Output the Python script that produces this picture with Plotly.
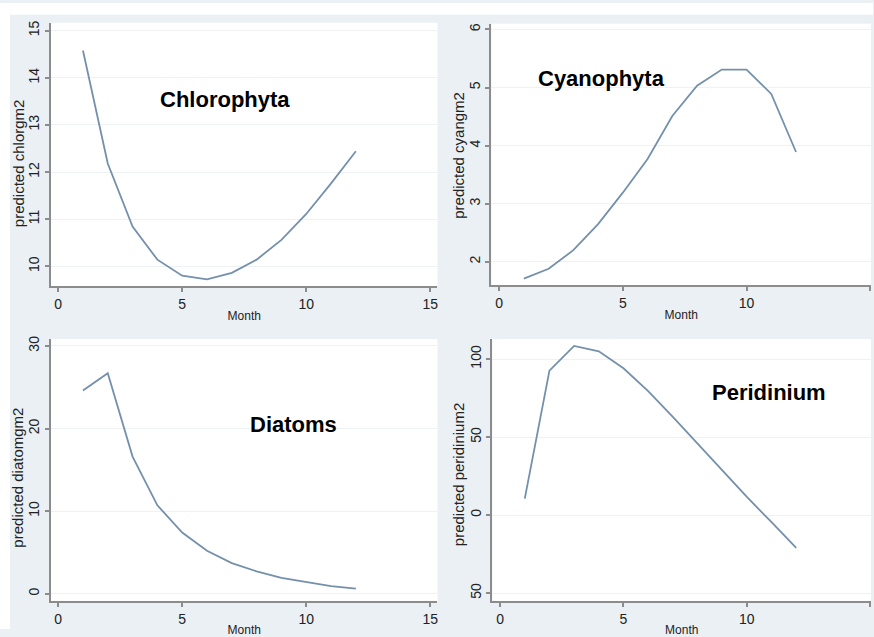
import plotly.graph_objects as go

months = list(range(1, 13))
chlorophyta = [14.58, 12.18, 10.84, 10.14, 9.80, 9.72, 9.86, 10.14, 10.56, 11.11, 11.76, 12.44]
cyanophyta = [1.71, 1.88, 2.20, 2.65, 3.19, 3.77, 4.51, 5.03, 5.31, 5.31, 4.89, 3.89]
diatoms = [24.6, 26.7, 16.6, 10.7, 7.4, 5.2, 3.7, 2.7, 1.9, 1.4, 0.9, 0.6]
peridinium = [10.5, 92.6, 108.4, 105.0, 94.1, 79.4, 63.0, 45.8, 28.6, 11.6, -4.6, -21.0]

x_ticks = [0, 5, 10, 15]
chl_ticks = [10, 11, 12, 13, 14, 15]
cya_ticks = [2, 3, 4, 5, 6]
dia_ticks = [0, 10, 20, 30]
per_ticks = [-50, 0, 50, 100]
per_ticktext = ["50", "0", "50", "100"]

y_titles = ["predicted chlorgm2", "predicted cyangm2", "predicted diatomgm2", "predicted peridinium2"]
panel_names = ["Chlorophyta", "Cyanophyta", "Diatoms", "Peridinium"]

W, H = 874, 637
LINE = "#7490ab"
AXC = "#8c8c8c"
GRID = "#eef2f5"
FONT = "Liberation Sans, Arial, sans-serif"

def fx(px):
    return px / W

def fy(py):
    return 1 - py / H

panels = [
    dict(data=chlorophyta, xd=[fx(51), fx(438)], yd=[fy(288), fy(20)], yr=[9.58, 15.17], xr=[-0.29, 15.29],
         yt=chl_ticks, ytt=None, ann=(6.71, 13.54), tpos=(18, 163)),
    dict(data=cyanophyta, xd=[fx(492), fx(872)], yd=[fy(287), fy(21)], yr=[1.6, 6.1], xr=[-0.31, 15.03],
         yt=cya_ticks, ytt=None, ann=(4.12, 5.15), tpos=(459, 155)),
    dict(data=diatoms, xd=[fx(51), fx(438)], yd=[fy(609), fy(342)], yr=[-0.95, 30.83], xr=[-0.29, 15.29],
         yt=dia_ticks, ytt=None, ann=(9.49, 20.44), tpos=(18, 483)),
    dict(data=peridinium, xd=[fx(493), fx(872)], yd=[fy(609), fy(342)], yr=[-55.4, 112.8], xr=[-0.31, 15.03],
         yt=per_ticks, ytt=per_ticktext, ann=(10.9, 78.8), tpos=(459, 480)),
]

fig = go.Figure()
layout = dict(
    width=W, height=H, margin=dict(l=0, r=0, t=0, b=0),
    paper_bgcolor="#eaf0f3", plot_bgcolor="white", showlegend=False,
    font=dict(family=FONT, color="#222"),
    shapes=[
        dict(type="rect", xref="paper", yref="paper", x0=0, x1=1, y0=fy(12), y1=1,
             fillcolor="white", line_width=0, layer="below"),
        dict(type="rect", xref="paper", yref="paper", x0=0, x1=fx(10), y0=0, y1=1,
             fillcolor="white", line_width=0, layer="below"),
    ],
    annotations=[],
)

for i, p in enumerate(panels):
    n = "" if i == 0 else str(i + 1)
    fig.add_trace(go.Scatter(x=months, y=p["data"], mode="lines",
                             line=dict(color=LINE, width=1.8),
                             xaxis="x" + n, yaxis="y" + n, hoverinfo="skip"))
    layout["xaxis" + n] = dict(
        domain=p["xd"], range=p["xr"], anchor="y" + n,
        tickvals=x_ticks, ticks="outside", ticklen=4, tickcolor=AXC, tickwidth=1.5,
        showline=True, linecolor=AXC, linewidth=2, showgrid=False, zeroline=False,
        tickfont=dict(size=14, color="#222"),
        title=dict(text="Month", font=dict(size=12, color="#222"), standoff=1),
    )
    yd = dict(
        domain=p["yd"], range=p["yr"], anchor="x" + n,
        tickvals=p["yt"], ticks="outside", ticklen=4, tickcolor=AXC, tickwidth=1.5,
        showline=True, linecolor=AXC, linewidth=2, showgrid=True, gridcolor=GRID, gridwidth=1,
        zeroline=False, tickangle=-90,
        tickfont=dict(size=14, color="#222"),
    )
    if p["ytt"] is not None:
        yd["ticktext"] = p["ytt"]
    layout["yaxis" + n] = yd
    layout["annotations"].append(dict(
        x=p["ann"][0], y=p["ann"][1], xref="x" + n, yref="y" + n,
        text="<b>" + panel_names[i] + "</b>", showarrow=False,
        font=dict(size=22, family=FONT, color="black"),
    ))
    layout["annotations"].append(dict(
        x=fx(p["tpos"][0]), y=fy(p["tpos"][1]), xref="paper", yref="paper",
        text=y_titles[i], showarrow=False, textangle=-90,
        xanchor="center", yanchor="middle",
        font=dict(size=15, family=FONT, color="#222"),
    ))

fig.update_layout(**layout)
fig.write_html("out.html")
